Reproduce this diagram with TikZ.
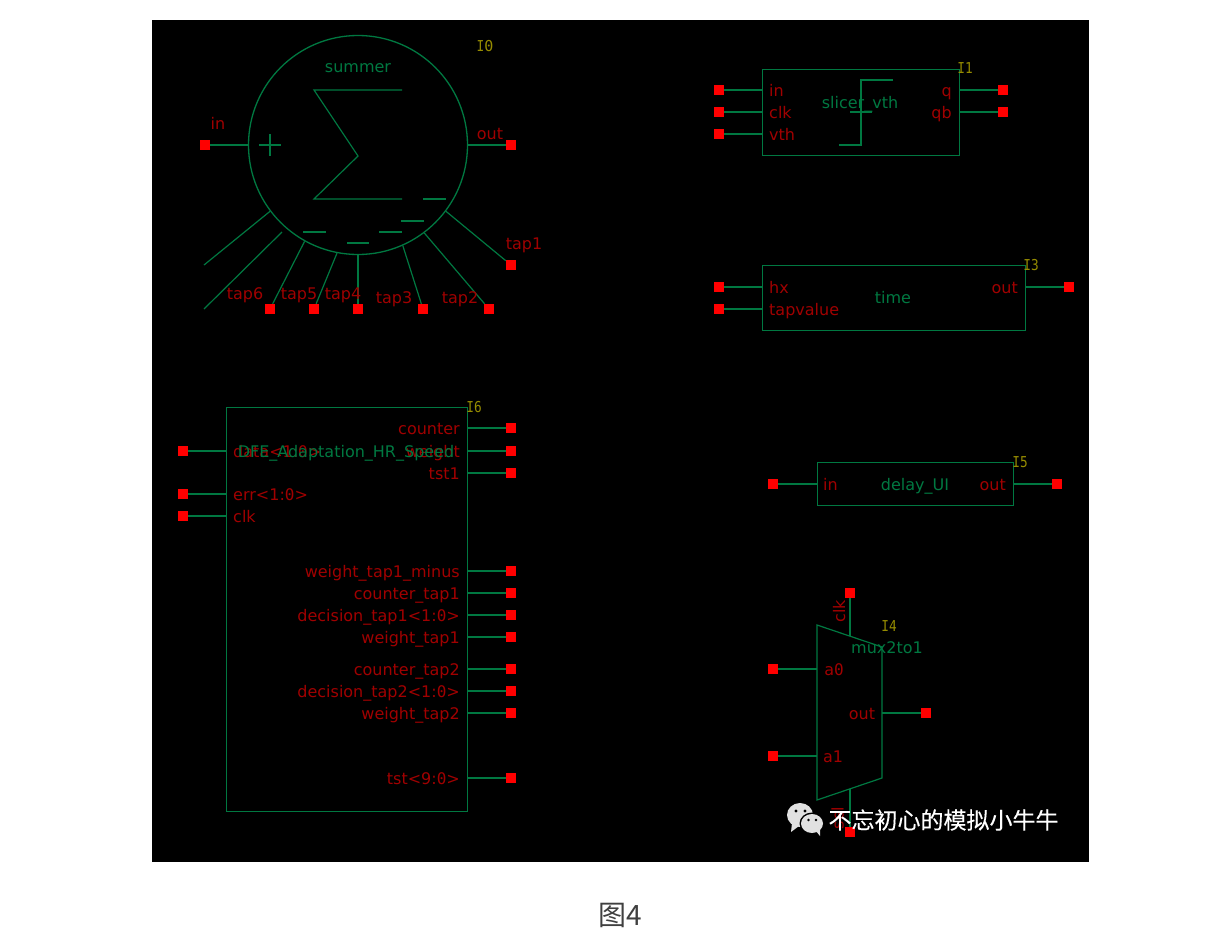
\documentclass[tikz,border=0pt]{standalone}
\usepackage{fontspec}
\setmainfont{DejaVu Sans}
\newfontfamily\monofont{DejaVu Sans Mono}
\newfontfamily\instfont[FakeStretch=0.85]{DejaVu Sans Mono}
\newfontfamily\cjkfont{Noto Sans CJK SC}
\newfontfamily\markfont[FakeBold=0.3]{Noto Sans CJK SC}
\usepackage{tikz}
\newcommand{\zr}{{\monofont 0}}
\definecolor{symgreen}{RGB}{0,120,65}
\definecolor{pinred}{RGB}{160,0,0}
\definecolor{instyellow}{RGB}{150,140,0}
\definecolor{bubble}{RGB}{225,225,225}
\tikzset{
  wire/.style={symgreen, line width=1.2pt},
  block/.style={draw=symgreen, line width=1pt, rectangle, inner sep=0pt},
  pin/.style={fill=red, rectangle, inner sep=0pt, minimum size=10pt},
  pinlabel/.style={text=pinred, font=\fontsize{16}{16}\selectfont, inner sep=0pt, text height=14pt, text depth=2.6pt},
  cellname/.style={text=symgreen, font=\fontsize{16}{16}\selectfont, inner sep=0pt, text height=14pt, text depth=2.6pt},
  instname/.style={text=instyellow, font=\instfont\fontsize{15}{15}\selectfont, inner sep=0pt}
}
\begin{document}
\begin{tikzpicture}[x=1pt, y=-1pt]
        \useasboundingbox (0,0) rectangle (1227,940);
        \fill[black] (152,20) rectangle (1089,862);
        % summer
        \node[block, circle, line width=1.3pt, minimum size=219pt] (sum) at (358,145) {};
        \node[cellname] (sumname) at (358,67) {summer};
        \node[instname] (suminst) at (485,46) {I\zr};
        \draw[wire] (402,90) -- (314,90) -- (358,156) -- (314,199) -- (402,199);
        \draw[wire] (259,145) -- (281,145) (270,134) -- (270,156);
        \draw[wire] (423,199) -- (446,199) (401,221) -- (424,221) (379,232) -- (402,232)
          (347,243) -- (369,243) (303,232) -- (326,232);
        \foreach \name/\px/\py/\ang in {in/205/145/180, out/511/145/0, tapa/511/265/-37,
            tapb/489/309/-53, tapc/423/309/-66, tapd/358/309/-90, tape/314/309/-101.5, tapf/270/309/-119}
          {
            \node[pin] (\name) at (\px,\py) {};
            \draw[wire] (\name) -- (sum.\ang);
          }
        \coordinate (freea) at (204,265);
        \coordinate (freeb) at (204,309);
        \coordinate (freec) at (282,232);
        \draw[wire] (freea) -- (sum.217) (freeb) -- (freec);
        \foreach \px/\py/\txt in {218/124/in, 490/134/out, 524/244/tap1, 460/298/tap2,
            394/298/tap3, 343/294/tap4, 299/294/tap5, 245/294/tap6}
          \node[pinlabel] at (\px,\py) {\txt};
        % slicer
        \node[block, minimum width=197pt, minimum height=86pt] (slicer) at (860.5,112) {};
        \node[cellname] (slicername) at (860,103) {slicer\_vth};
        \node[instname] (slicerinst) at (965,68) {I1};
        \draw[wire] (893,80) -- (861,80) -- (861,145) -- (839,145) (850,112) -- (872,112);
        \foreach \name/\py/\txt in {slin/90/in, slclk/112/clk, slvth/134/vth}
          {
            \node[pin] (\name) at (719,\py) {};
            \draw[wire] (\name) -- (\name -| slicer.west);
            \node[pinlabel, anchor=west] at (769,\py+1) {\txt};
          }
        \foreach \name/\py/\txt in {slq/90/q, slqb/112/qb}
          {
            \node[pin] (\name) at (1003,\py) {};
            \draw[wire] (\name) -- (\name -| slicer.east);
            \node[pinlabel, anchor=east] at (952,\py+1) {\txt};
          }
        % time
        \node[block, minimum width=263pt, minimum height=65pt] (time) at (893.5,297.5) {};
        \node[cellname] (timename) at (893,298) {time};
        \node[instname] (timeinst) at (1031,265) {I3};
        \foreach \name/\py/\txt in {thx/287/hx, ttap/309/tapvalue}
          {
            \node[pin] (\name) at (719,\py) {};
            \draw[wire] (\name) -- (\name -| time.west);
            \node[pinlabel, anchor=west] at (769,\py+1) {\txt};
          }
        \node[pin] (tout) at (1069,287) {};
        \draw[wire] (tout) -- (tout -| time.east);
        \node[pinlabel, anchor=east] at (1018,288) {out};
        % delay
        \node[block, minimum width=196pt, minimum height=43pt] (delay) at (915,483.5) {};
        \node[cellname] (delayname) at (915,485) {delay\_UI};
        \node[instname] (delayinst) at (1020,462) {I5};
        \node[pin] (din) at (773,484) {};
        \node[pin] (dout) at (1057,484) {};
        \draw[wire] (din) -- (din -| delay.west) (dout) -- (dout -| delay.east);
        \node[pinlabel, anchor=west] at (823,485) {in};
        \node[pinlabel, anchor=east] at (1006,485) {out};
        % mux
        \coordinate (muxa) at (817,625);
        \coordinate (muxb) at (882,647);
        \coordinate (muxc) at (882,778);
        \coordinate (muxd) at (817,800);
        \draw[wire] (muxa) -- (muxb) -- (muxc) -- (muxd) -- cycle;
        \node[cellname] (muxname) at (887,648) {mux2to1};
        \node[instname] (muxinst) at (889,626) {I4};
        \foreach \name/\px/\py/\ex/\ey in {mclk/850/593/850/636, msel/850/832/850/789,
            mazero/773/669/817/669, maone/773/756/817/756, mout/926/713/882/713}
          {
            \node[pin] (\name) at (\px,\py) {};
            \coordinate (\name e) at (\ex,\ey);
            \draw[wire] (\name) -- (\name e);
          }
        \node[pinlabel, rotate=90] at (839.5,611) {clk};
        \node[pinlabel, rotate=90] at (838,818) {sel};
        \node[pinlabel] at (834,670) {a\zr};
        \node[pinlabel] at (833,757) {a1};
        \node[pinlabel] at (862,714) {out};
        % adaptation
        \node[block, minimum width=241pt, minimum height=404pt] (dfe) at (346.5,609) {};
        \node[instname] (dfeinst) at (474,407) {I6};
        \foreach \name/\py/\txt in {ddata/451/data<1:\zr>, derr/494/err<1:\zr>, dclk/516/clk}
          {
            \node[pin] (\name) at (183,\py) {};
            \draw[wire] (\name) -- (\name -| dfe.west);
            \node[pinlabel, anchor=west] at (233,\py+1) {\txt};
          }
        \foreach \name/\py/\txt in {dcnt/428/counter, dwgt/451/weight, dtst/473/tst1,
            dwm/571/weight\_tap1\_minus, dca/593/counter\_tap1, dda/615/decision\_tap1<1:\zr>,
            dwa/637/weight\_tap1, dcb/669/counter\_tap2, ddb/691/decision\_tap2<1:\zr>,
            dwb/713/weight\_tap2, dtt/778/tst<9:\zr>}
          {
            \node[pin] (\name) at (511,\py) {};
            \draw[wire] (\name) -- (\name -| dfe.east);
            \node[pinlabel, anchor=east] at (460,\py+1) {\txt};
          }
        \node[cellname] (dfename) at (346,452) {DFE\_Adaptation\_HR\_Speed};
        % watermark
        \fill[bubble] (800,815) ellipse (13pt and 12pt);
        \fill[bubble] (792,823) -- (791,832) -- (799,826) -- cycle;
        \fill[black] (812,823.5) ellipse (12.5pt and 11pt);
        \fill[bubble] (812,823.5) ellipse (11pt and 9.5pt);
        \fill[bubble] (816,831) -- (820,836) -- (820,828) -- cycle;
        \fill[black] (796,811) circle (1.6pt) (805,811) circle (1.6pt)
          (808.5,820) circle (1.4pt) (816,820) circle (1.4pt);
        \node[text=white, inner sep=0pt, font=\markfont\fontsize{23}{23}\selectfont] (mark) at (943.5,820) {不忘初心的模拟小牛牛};
        \node[text=black!75, inner sep=0pt, font=\cjkfont\fontsize{28}{28}\selectfont] (caption) at (620,915) {图4};
\end{tikzpicture}
\end{document}
